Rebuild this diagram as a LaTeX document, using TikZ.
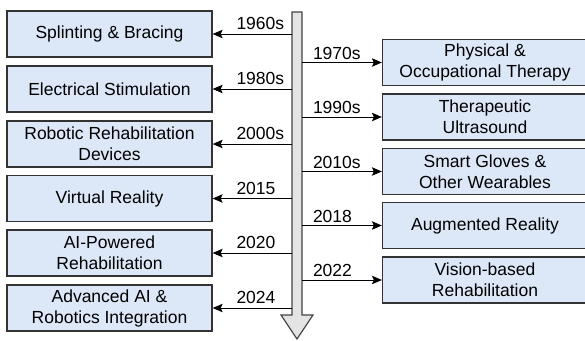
\documentclass[tikz,border=0pt]{standalone}
\usepackage{fontspec}
\setmainfont{Liberation Sans}
\usetikzlibrary{arrows.meta}
\definecolor{boxfill}{HTML}{DCE8F8}
\definecolor{boxline}{HTML}{333333}
\definecolor{barfill}{HTML}{E4E4E4}
\definecolor{barline}{HTML}{444444}
\tikzset{
  event/.style={draw=boxline, fill=boxfill, line width=1.3pt, minimum width=205pt,
    minimum height=46pt, inner sep=0pt, align=center,
    font=\fontsize{17.5}{21}\selectfont},
  yearlbl/.style={inner sep=0pt, font=\fontsize{17.5}{21}\selectfont, pos=0, anchor=base west},
  link/.style={draw=black, line width=1pt, -{Stealth[length=10pt,width=8.5pt,inset=2pt]}},
  timebar/.style={draw=barline, fill=barfill, line width=1.2pt, line join=miter}
}
\begin{document}
\begin{tikzpicture}[x=1pt,y=-1pt]
\useasboundingbox (0,0) rectangle (585,340);
% timeline bar with arrowhead
\draw[timebar] (292,12) -- (302,12) -- (302,315) -- (313,315) -- (297,339)
  -- (281,315) -- (292,315) -- cycle;
% events on the left
\node[event] (l1) at (109.5,34) {Splinting \& Bracing};
\node[event] (l2) at (109.5,89) {Electrical Stimulation};
\node[event] (l3) at (109.5,144) {Robotic Rehabilitation\\Devices};
\node[event] (l4) at (109.5,198.5) {Virtual Reality};
\node[event] (l5) at (109.5,253) {AI-Powered\\Rehabilitation};
\node[event] (l6) at (109.5,308) {Advanced AI \&\\Robotics Integration};
% events on the right
\node[event] (r1) at (485,62.5) {Physical \&\\Occupational Therapy};
\node[event] (r2) at (485,117) {Therapeutic\\Ultrasound};
\node[event] (r3) at (485,171.5) {Smart Gloves \&\\Other Wearables};
\node[event] (r4) at (485,225.5) {Augmented Reality};
\node[event] (r5) at (485,280) {Vision-based\\Rehabilitation};
% anchor points on the timeline
\coordinate (a1) at (292,34);
\coordinate (a2) at (292,89);
\coordinate (a3) at (292,144);
\coordinate (a4) at (292,198.5);
\coordinate (a5) at (292,253);
\coordinate (a6) at (292,308);
\coordinate (b1) at (302,62.5);
\coordinate (b2) at (302,117);
\coordinate (b3) at (302,171.5);
\coordinate (b4) at (302,225.5);
\coordinate (b5) at (302,280);
% connectors with year labels
\draw[link] (a1) -- (l1) node[yearlbl, xshift=-56pt, yshift=4.5pt] {1960s};
\draw[link] (a2) -- (l2) node[yearlbl, xshift=-56pt, yshift=4.5pt] {1980s};
\draw[link] (a3) -- (l3) node[yearlbl, xshift=-56pt, yshift=4.5pt] {2000s};
\draw[link] (a4) -- (l4) node[yearlbl, xshift=-56pt, yshift=4.5pt] {2015};
\draw[link] (a5) -- (l5) node[yearlbl, xshift=-56pt, yshift=4.5pt] {2020};
\draw[link] (a6) -- (l6) node[yearlbl, xshift=-56pt, yshift=4.5pt] {2024};
\draw[link] (b1) -- (r1) node[yearlbl, xshift=10.5pt, yshift=3.5pt] {1970s};
\draw[link] (b2) -- (r2) node[yearlbl, xshift=10.5pt, yshift=3.5pt] {1990s};
\draw[link] (b3) -- (r3) node[yearlbl, xshift=10.5pt, yshift=3.5pt] {2010s};
\draw[link] (b4) -- (r4) node[yearlbl, xshift=10.5pt, yshift=3.5pt] {2018};
\draw[link] (b5) -- (r5) node[yearlbl, xshift=10.5pt, yshift=3.5pt] {2022};
\end{tikzpicture}
\end{document}
